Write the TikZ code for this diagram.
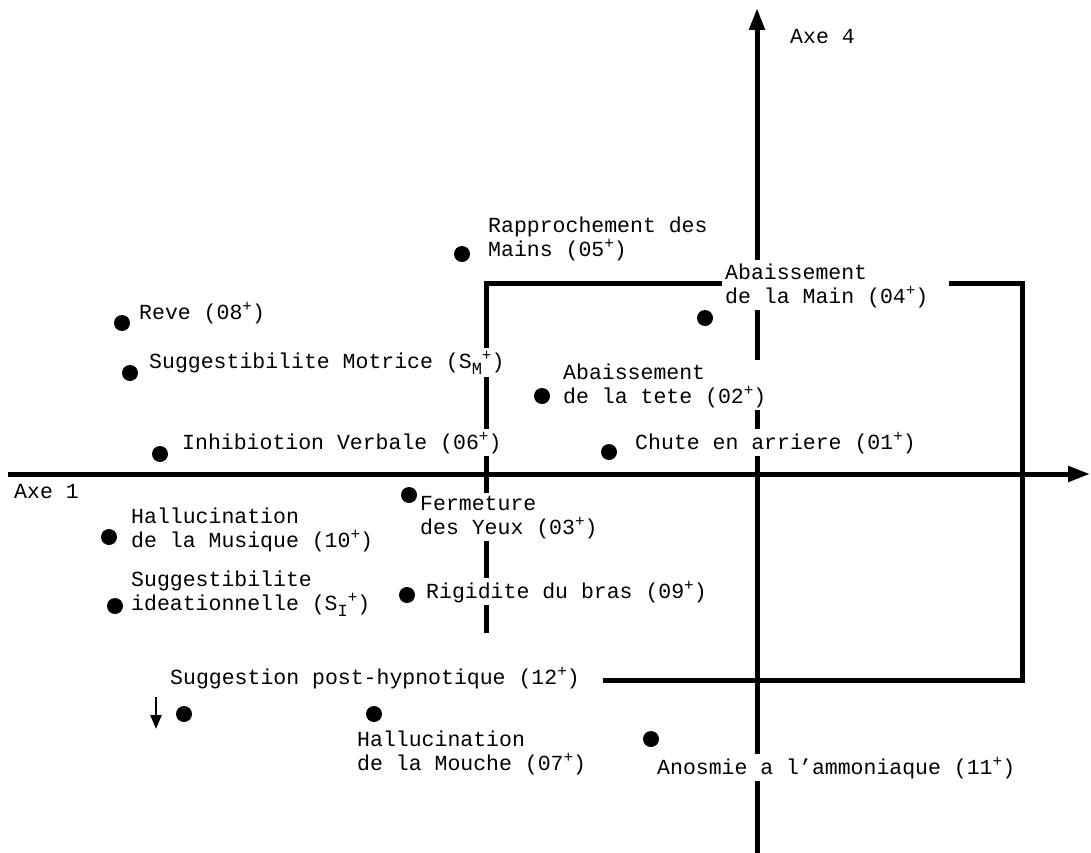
\documentclass[tikz,border=0pt]{standalone}
\usepackage{fontspec}
\setmainfont{Liberation Mono}
\usetikzlibrary{arrows.meta}
\newcommand\plusup{\raisebox{0.36em}{\fontsize{16}{16}\selectfont +}}
\newcommand\lowsub[1]{\raisebox{-0.28em}{\fontsize{17}{17}\selectfont #1}}
\begin{document}
\begin{tikzpicture}[x=1pt,y=-1pt,
  axis/.style={line width=5pt,-{Triangle[length=22pt,width=15pt]}},
  frame/.style={line width=5pt,line join=miter},
  dot/.style={circle,fill=black,inner sep=0pt,minimum size=16pt},
  lbl/.style={fill=white,inner sep=3pt,anchor=base west,align=left,font=\fontsize{21.5}{24}\selectfont}]
\useasboundingbox (0,0) rectangle (1091,853);
% axes
\coordinate (h0) at (8,474);
\coordinate (h1) at (1090,474);
\coordinate (v0) at (757,853);
\coordinate (v1) at (757,8);
\draw[axis] (h0) -- (h1);
\draw[axis] (v0) -- (v1);
% frame
\coordinate (f1) at (486,633);
\coordinate (f2) at (486,283);
\coordinate (f3) at (1022,283);
\coordinate (f4) at (1022,680);
\coordinate (f5) at (603,680);
\draw[frame] (f1) -- (f2) -- (f3) -- (f4) -- (f5);
% small arrow
\coordinate (s0) at (156,697);
\coordinate (s1) at (156,729);
\draw[line width=2.5pt,-{Triangle[length=14pt,width=11pt]}] (s0) -- (s1);
% labels (base = baseline of last line)
\node[lbl] (ax4) at (787,44) {Axe 4};
\node[lbl] (ax1) at (11,498) {Axe 1};
\node[lbl] (t05) at (485,256) {Rapprochement des\\Mains (05\plusup)};
\node[lbl] (t04) at (722,303) {Abaissement\\de la Main (04\plusup)\hspace*{18pt}};
\node[lbl] (t08) at (136,319) {Reve (08\plusup)};
\node[lbl] (tsm) at (146,368) {Suggestibilite Motrice (S\lowsub{M}\plusup)};
\node[lbl] (t02) at (560,403) {Abaissement\\de la tete (02\plusup)};
\node[lbl] (t06) at (179,449) {Inhibiotion Verbale (06\plusup)};
\node[lbl] (t01) at (632,449) {Chute en arriere (01\plusup)};
\node[lbl] (t10) at (128,547) {Hallucination\\de la Musique (10\plusup)};
\node[lbl] (t03) at (417,534) {Fermeture\\des Yeux (03\plusup)};
\node[lbl] (tsi) at (128,610) {Suggestibilite\\ideationnelle (S\lowsub{I}\plusup)};
\node[lbl] (t09) at (423,598) {Rigidite du bras (09\plusup)};
\node[lbl] (t12) at (167,684) {Suggestion post-hypnotique (12\plusup)};
\node[lbl] (t07) at (354,770) {Hallucination\\de la Mouche (07\plusup)};
\node[lbl] (t11) at (654,774) {Anosmie a l’ammoniaque (11\plusup)};
% dots
\node[dot] (d05) at (462,254) {};
\node[dot] (d04) at (705,318) {};
\node[dot] (d08) at (122,323) {};
\node[dot] (dsm) at (130,373) {};
\node[dot] (d02) at (542,396) {};
\node[dot] (d06) at (160,454) {};
\node[dot] (d01) at (609,452) {};
\node[dot] (d10) at (109,537) {};
\node[dot] (d03) at (409,495) {};
\node[dot] (dsi) at (115,606) {};
\node[dot] (d09) at (407,595) {};
\node[dot] (d12) at (184,714) {};
\node[dot] (d07) at (374,714) {};
\node[dot] (d11) at (651,739) {};
\end{tikzpicture}
\end{document}
